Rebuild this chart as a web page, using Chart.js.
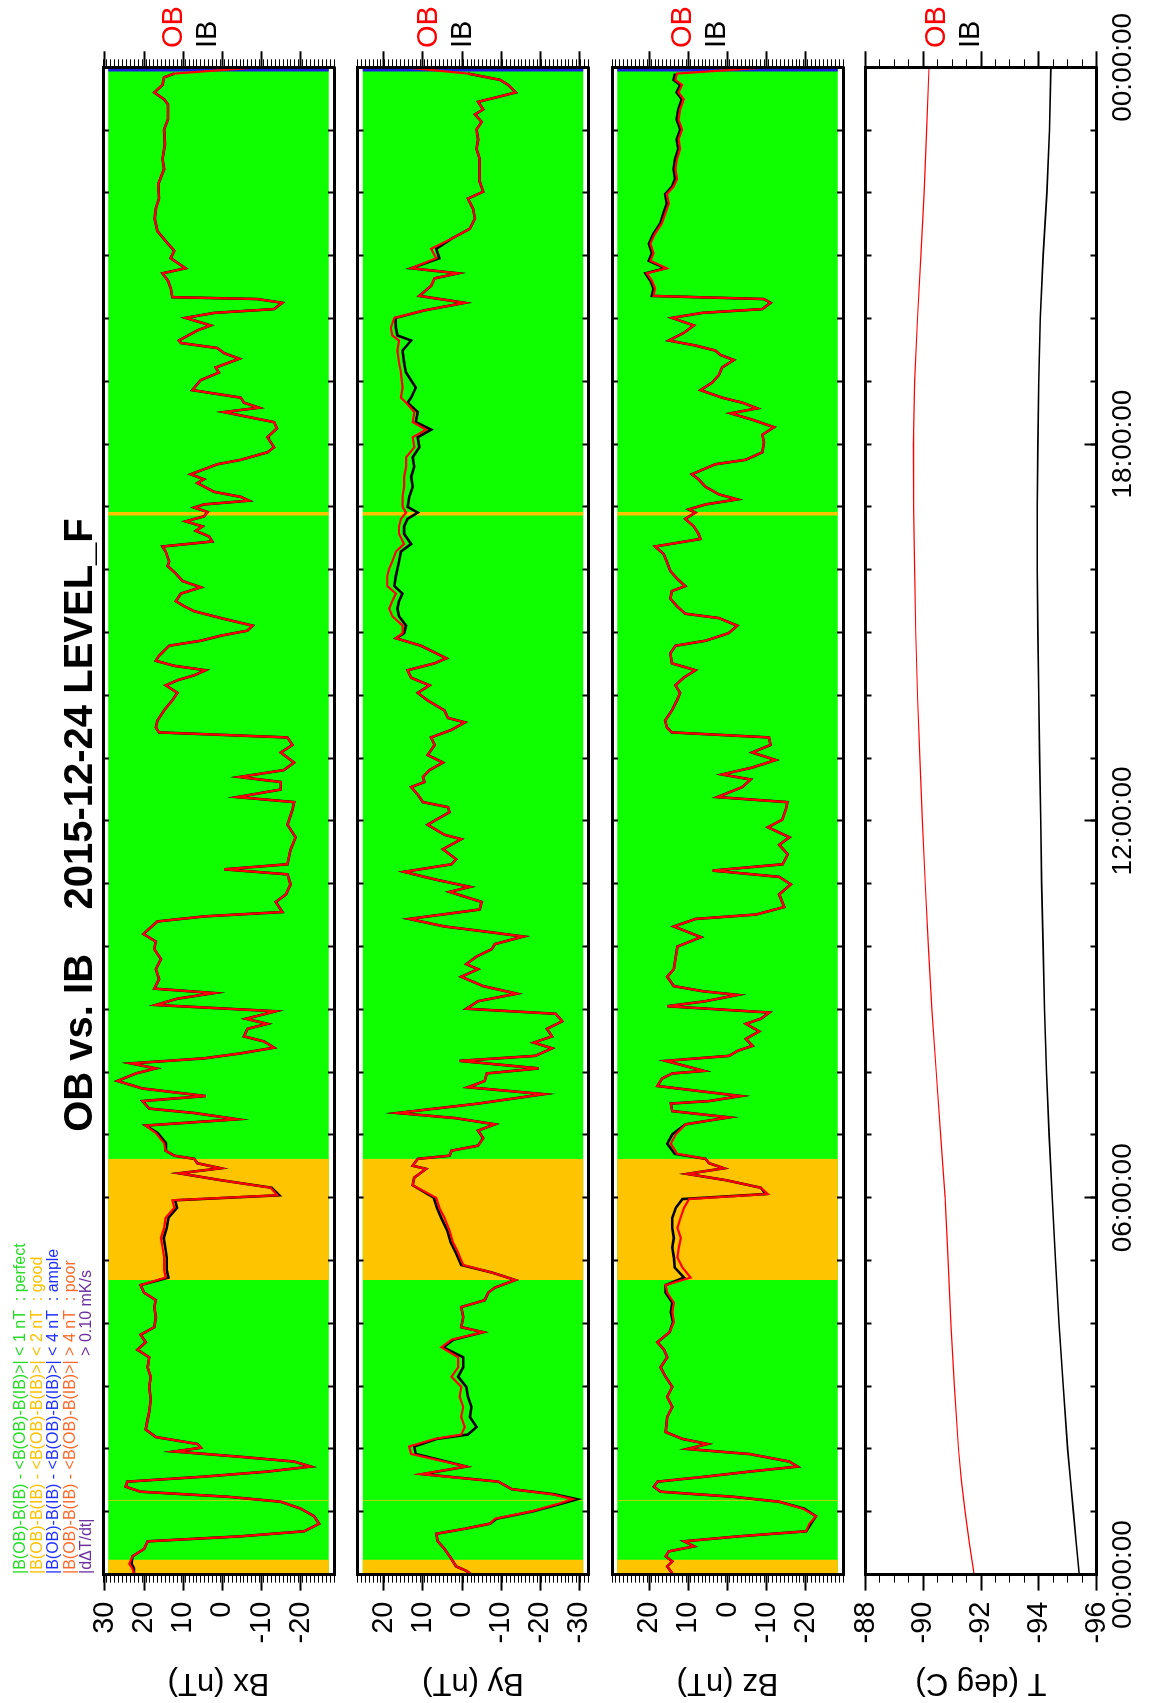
<!DOCTYPE html>
<html><head><meta charset="utf-8">
<script src="https://cdn.jsdelivr.net/npm/chart.js@4/dist/chart.umd.min.js"></script>
<style>
html,body{margin:0;padding:0;background:#fff;overflow:hidden;width:1149px;height:1703px;}
#rot{position:absolute;left:0;top:0;width:1703px;height:1149px;transform-origin:0 0;transform:translate(0px,1703px) rotate(-90deg);}
#rot canvas{position:absolute;left:0;top:0;}
</style></head><body>
<div id="rot">
<canvas id="c0" width="1703" height="1149"></canvas>
<canvas id="c1" width="1703" height="1149"></canvas>
<canvas id="c2" width="1703" height="1149"></canvas>
<canvas id="c3" width="1703" height="1149"></canvas>
</div>
<script>
// ---------------- DATA ----------------
const titleText = 'OB vs. IB    2015-12-24 LEVEL_F';
const seriesNames = ['OB', 'IB'];
const timeTickLabels = ['00:00:00', '06:00:00', '12:00:00', '18:00:00', '00:00:00'];
const panelLabels = ['Bx (nT)', 'By (nT)', 'Bz (nT)', 'T (deg C)'];

const legendLines = [
  '|B(OB)-B(IB) - <B(OB)-B(IB)>| < 1 nT  : perfect',
  '|B(OB)-B(IB) - <B(OB)-B(IB)>| < 2 nT  : good',
  '|B(OB)-B(IB) - <B(OB)-B(IB)>| < 4 nT  : ample',
  '|B(OB)-B(IB) - <B(OB)-B(IB)>| > 4 nT  : poor'
];
const legendRateLabel = '|d\u0394T/dt|';
const legendRateValue = '> 0.10 mK/s';

// quality flag intervals (hours)
const bandStart = [0.00, 1.17, 4.69, 16.86, 23.93];
const bandEnd   = [0.24, 1.185, 6.62, 16.92, 24.00];
const bandClass = ['good', 'good', 'good', 'good', 'ample'];

const bxTime = [0.02,0.10,0.17,0.29,0.41,0.53,0.61,0.69,0.81,0.93,
1.05,1.16,1.24,1.32,1.40,1.48,1.56,1.64,1.72,1.80,
1.88,1.96,2.02,2.08,2.19,2.31,2.47,2.59,2.79,2.99,
3.15,3.30,3.46,3.58,3.70,3.82,3.94,4.10,4.26,4.37,
4.49,4.61,4.73,4.85,5.05,5.21,5.36,5.52,5.68,5.84,
5.96,6.04,6.16,6.28,6.39,6.47,6.55,6.62,6.67,6.75,
6.87,7.03,7.15,7.25,7.35,7.42,7.54,7.62,7.74,7.86,
7.98,8.06,8.14,8.22,8.30,8.39,8.49,8.57,8.69,8.77,
8.85,8.97,9.07,9.17,9.26,9.33,9.48,9.64,9.80,9.96,
10.08,10.20,10.40,10.48,10.55,10.71,10.83,10.99,11.15,11.23,
11.31,11.54,11.74,11.94,12.18,12.30,12.38,12.50,12.62,12.70,
12.81,12.93,13.09,13.21,13.33,13.41,13.49,13.60,13.76,13.92,
14.04,14.16,14.24,14.32,14.40,14.47,14.55,14.63,14.79,14.87,
14.95,15.03,15.11,15.23,15.34,15.42,15.50,15.62,15.72,15.82,
15.94,16.06,16.13,16.29,16.37,16.45,16.53,16.62,16.69,16.77,
16.85,16.92,16.99,17.04,17.10,17.16,17.24,17.38,17.44,17.52,
17.68,17.75,17.87,17.95,18.11,18.25,18.35,18.51,18.58,18.66,
18.74,18.86,19.02,19.14,19.22,19.36,19.45,19.53,19.61,19.65,
19.81,19.89,20.01,20.09,20.15,20.25,20.31,20.34,20.48,20.60,
20.72,20.80,20.96,21.08,21.19,21.39,21.59,21.75,21.91,22.14,
22.38,22.54,22.77,23.01,23.17,23.41,23.49,23.60,23.72,23.84,
23.90,24.00];
const bxOB = [22.6,23.0,23.8,23.0,20.0,19.1,-4.7,-20.9,-24.7,-23.4,
-20.0,-14.9,-1.3,20.9,24.7,24.3,4.7,-11.5,-22.6,-18.3,
-3.8,12.3,5.5,6.4,17.0,19.6,19.1,18.7,18.3,18.7,
18.3,19.1,18.7,21.7,19.6,20.9,17.4,17.0,17.4,17.0,
20.0,20.9,14.5,14.9,14.9,15.3,15.7,14.9,14.5,12.3,
12.8,-14.0,-12.3,0.4,11.1,0.4,6.4,7.2,12.3,14.5,
14.9,17.0,19.6,-3.8,7.2,18.7,20.4,4.3,20.4,26.8,
22.1,17.0,23.4,4.7,-4.7,-13.2,-10.6,-5.5,-6.4,-11.5,
-6.0,-13.6,17.0,11.5,2.1,17.4,16.2,17.0,15.7,17.4,
17.0,20.2,16.6,4.7,-15.3,-13.6,-16.2,-17.4,-16.6,-0.4,
-16.6,-17.4,-18.7,-16.6,-17.9,-18.3,-3.8,-14.9,-14.9,-4.3,
-15.7,-18.3,-14.9,-17.9,-16.6,16.2,17.0,16.6,14.9,12.8,
11.5,14.5,11.5,7.2,4.3,12.3,17.0,16.2,13.6,5.5,
0.4,-6.4,-7.7,0.4,7.2,9.8,11.9,10.6,5.5,10.2,
11.9,14.0,13.6,14.5,15.3,2.6,3.4,6.8,5.1,9.4,
4.7,3.8,7.2,4.7,-6.8,-4.7,2.1,6.4,4.7,8.1,
1.3,-4.7,-11.5,-13.2,-11.5,-13.9,-13.2,-0.4,-9.4,-5.5,
-4.7,7.7,5.5,0.9,1.7,-4.3,-0.4,1.3,10.6,11.1,
6.4,3.0,9.4,2.1,-13.2,-15.3,-8.9,12.8,13.2,13.9,
15.3,9.4,13.2,12.3,13.9,16.6,17.3,17.0,16.2,16.4,
14.9,15.3,14.7,14.9,13.9,13.9,14.9,17.4,15.3,14.9,
12.3,-9.4];
const bxIB = [22.6,22.6,23.2,23.0,20.0,19.1,-4.7,-20.9,-24.7,-23.4,
-20.0,-14.9,-1.3,20.9,24.7,24.3,4.7,-11.5,-22.6,-18.3,
-3.8,12.3,5.5,6.4,17.0,19.6,19.1,18.7,18.3,18.7,
18.3,19.1,18.7,21.7,19.6,20.9,17.4,17.0,17.4,17.0,
20.0,20.9,13.8,14.2,14.2,14.6,15.0,14.2,13.8,11.6,
12.1,-14.5,-12.6,0.4,11.1,0.4,6.4,7.2,12.3,14.5,
14.4,16.5,19.6,-3.8,7.2,18.7,20.4,4.3,20.4,26.8,
22.1,17.0,23.4,4.7,-4.7,-13.2,-10.6,-5.5,-6.4,-11.5,
-6.0,-13.6,17.0,11.5,2.1,17.4,16.2,17.0,15.7,17.4,
17.0,20.2,16.6,4.7,-15.3,-13.6,-16.2,-17.4,-16.6,-0.4,
-16.6,-17.4,-18.7,-16.6,-17.9,-18.3,-3.8,-14.9,-14.9,-4.3,
-15.7,-18.3,-14.9,-17.9,-16.6,16.2,17.0,16.6,14.9,12.8,
11.5,14.5,11.5,7.2,4.3,12.3,17.0,16.2,13.6,5.5,
0.4,-6.4,-7.7,0.4,7.2,9.8,11.9,10.6,5.5,10.2,
11.9,14.0,13.6,14.5,15.3,2.6,3.4,6.8,5.1,9.4,
4.7,3.8,7.2,4.7,-6.8,-4.7,2.1,6.4,4.7,8.1,
1.3,-4.7,-11.5,-13.2,-11.5,-13.9,-13.2,-0.4,-9.4,-5.5,
-4.7,7.7,5.5,0.9,1.7,-4.3,-0.4,1.3,10.6,11.1,
6.4,3.0,9.4,2.1,-13.2,-15.3,-8.9,12.8,13.2,13.9,
15.3,9.4,13.2,12.3,13.9,16.6,17.3,17.0,16.2,16.4,
14.9,15.3,14.7,14.9,13.9,13.9,14.9,17.4,15.3,14.9,
12.3,null];

const byTime = [0.00,0.06,0.13,0.25,0.41,0.53,0.65,0.73,0.81,0.89,
1.01,1.13,1.20,1.28,1.36,1.48,1.60,1.72,1.80,1.92,
2.04,2.16,2.23,2.35,2.51,2.67,2.83,2.99,3.15,3.30,
3.46,3.62,3.74,3.86,3.94,4.10,4.26,4.37,4.49,4.57,
4.69,4.81,4.93,5.13,5.29,5.48,5.68,5.84,6.00,6.20,
6.32,6.46,6.51,6.62,6.67,6.75,6.83,6.95,7.07,7.17,
7.27,7.35,7.50,7.65,7.76,7.86,7.98,8.06,8.18,8.26,
8.38,8.47,8.57,8.69,8.81,8.93,9.01,9.13,9.25,9.37,
9.52,9.64,9.72,9.84,9.96,10.04,10.16,10.24,10.32,10.44,
10.59,10.71,10.87,10.95,11.07,11.19,11.31,11.39,11.55,11.71,
11.78,11.94,12.14,12.22,12.30,12.42,12.54,12.62,12.70,12.81,
12.93,13.05,13.21,13.33,13.45,13.57,13.64,13.76,13.92,14.04,
14.16,14.28,14.40,14.51,14.59,14.71,14.79,14.91,14.99,15.11,
15.26,15.38,15.50,15.62,15.74,15.90,16.02,16.13,16.29,16.41,
16.57,16.69,16.81,16.91,17.00,17.16,17.32,17.48,17.64,17.79,
17.95,18.11,18.23,18.35,18.51,18.66,18.74,18.90,19.14,19.30,
19.49,19.65,19.73,19.85,20.01,20.13,20.25,20.36,20.52,20.64,
20.72,20.80,20.96,21.11,21.27,21.43,21.59,21.75,21.91,22.02,
22.18,22.34,22.54,22.70,22.85,23.01,23.13,23.25,23.33,23.45,
23.53,23.60,23.72,23.80,23.90,24.00];
const byOB = [-2.4,-1.1,1.5,2.7,4.5,6.2,6.6,-0.7,-7.1,-8.4,
-17.9,-24.7,-28.2,-23.0,-12.7,-9.3,10.5,-1.1,4.5,13.0,
13.5,7.0,0.2,-0.7,0.2,-0.3,0.6,0.2,2.7,1.0,
1.0,5.3,2.7,-5.4,0.2,-0.3,0.2,-5.8,-6.7,-8.4,
-13.6,-7.6,-0.3,1.0,2.3,3.2,4.5,5.8,6.6,12.6,
12.2,9.2,12.6,11.3,3.2,2.7,-4.1,-5.4,-4.1,-8.4,
1.9,16.5,-4.1,-20.9,-1.5,-5.8,-6.3,-19.6,0.6,-18.7,
-23.0,-18.3,-23.0,-21.7,-25.6,-23.9,-1.1,-4.1,-14.0,-5.4,
0.2,-4.1,-1.1,-3.7,-7.6,-8.4,-15.7,-5.8,4.5,13.5,
-4.5,-5.0,3.2,-2.0,7.0,14.8,2.7,1.5,4.9,0.2,
4.5,8.8,3.2,3.6,10.0,11.3,13.0,9.6,10.0,8.3,
4.9,8.8,7.0,7.9,2.7,-0.7,3.6,4.5,8.8,11.3,
8.3,13.0,13.9,7.0,4.0,7.9,10.5,16.9,15.2,15.2,
17.8,18.6,17.8,16.9,19.1,19.1,18.6,17.8,16.9,14.8,
16.1,16.1,15.6,14.3,15.2,15.2,14.8,14.8,14.3,14.3,
12.2,12.6,9.2,12.6,12.2,14.3,15.6,15.2,15.6,16.1,
16.5,16.1,17.8,18.2,17.3,9.6,-0.7,10.9,7.9,7.0,
1.0,13.0,6.6,7.9,2.7,-2.0,-3.3,-2.8,-1.5,-5.4,
-4.5,-4.5,-4.5,-3.7,-4.1,-3.7,-5.0,-3.3,-5.4,-4.1,
-9.3,-13.7,-11.8,-9.7,-1.5,14.8];
const byIB = [-2.4,-1.1,1.5,2.7,4.5,6.2,6.6,-0.7,-7.1,-8.8,
-18.3,-25.4,-29.4,-23.5,-12.7,-9.3,10.0,-1.1,4.0,11.8,
12.2,6.5,-1.5,-3.7,-2.0,-2.4,-1.5,-1.1,1.0,-0.3,
-0.3,4.8,2.2,-5.4,0.2,-0.3,0.2,-5.8,-6.7,-8.4,
-13.6,-7.6,0.2,1.6,2.9,3.8,5.3,6.4,7.2,12.6,
12.2,9.2,12.6,11.3,3.2,2.7,-4.1,-5.4,-4.1,-8.4,
1.9,16.5,-4.1,-20.9,-1.5,-5.8,-6.3,-19.6,0.6,-18.7,
-23.0,-18.3,-23.0,-21.7,-25.6,-23.9,-1.1,-4.1,-14.0,-5.4,
0.2,-4.1,-1.1,-3.7,-7.6,-8.4,-15.7,-5.8,4.5,13.5,
-4.5,-5.0,3.2,-2.0,7.0,14.8,2.7,1.5,4.9,0.2,
4.5,8.8,3.2,3.6,10.0,11.3,13.0,9.6,10.0,8.3,
4.9,8.8,7.0,7.9,2.7,-0.7,3.6,4.5,8.8,11.3,
8.3,13.0,13.9,7.0,4.0,7.9,10.5,16.9,14.8,14.3,
16.1,16.5,16.1,15.2,17.3,16.9,16.5,16.1,15.6,13.0,
14.8,14.8,13.9,11.3,13.9,13.5,12.6,13.0,12.2,12.6,
10.9,11.3,7.9,11.8,11.3,13.9,13.0,11.8,14.3,14.8,
15.2,13.0,16.5,16.9,17.0,9.6,-0.7,10.9,7.9,7.0,
1.0,13.0,5.8,6.6,2.7,-2.0,-3.3,-2.8,-1.5,-5.4,
-4.5,-4.5,-4.5,-3.7,-4.1,-3.7,-5.0,-3.3,-5.4,-4.1,
-9.3,-13.7,-11.8,-9.7,-1.5,null];

const bzTime = [0.02,0.13,0.21,0.29,0.37,0.45,0.53,0.61,0.69,0.81,
0.93,1.05,1.16,1.24,1.32,1.40,1.48,1.56,1.64,1.72,
1.80,1.92,2.00,2.08,2.16,2.27,2.51,2.67,2.83,2.99,
3.15,3.30,3.46,3.58,3.70,3.86,4.02,4.18,4.33,4.49,
4.61,4.73,4.89,5.05,5.21,5.36,5.52,5.68,5.84,5.98,
6.06,6.16,6.28,6.38,6.47,6.55,6.62,6.70,6.86,7.01,
7.17,7.28,7.38,7.50,7.54,7.62,7.70,7.78,7.90,7.98,
8.02,8.18,8.26,8.34,8.42,8.53,8.65,8.77,8.85,8.95,
9.05,9.13,9.23,9.29,9.37,9.52,9.64,9.84,10.00,10.15,
10.32,10.44,10.51,10.63,10.83,10.99,11.11,11.21,11.31,11.47,
11.62,11.74,11.90,12.02,12.18,12.30,12.38,12.54,12.66,12.74,
12.85,12.97,13.09,13.21,13.33,13.41,13.49,13.60,13.76,13.92,
14.04,14.16,14.28,14.40,14.51,14.67,14.79,14.87,14.99,15.11,
15.23,15.30,15.42,15.54,15.66,15.74,15.86,15.98,16.13,16.25,
16.37,16.49,16.57,16.69,16.81,16.91,16.96,17.04,17.12,17.20,
17.32,17.44,17.52,17.68,17.75,17.87,18.03,18.15,18.27,18.39,
18.49,18.57,18.66,18.74,18.86,18.98,19.10,19.22,19.34,19.42,
19.49,19.57,19.65,19.77,19.89,20.01,20.09,20.15,20.25,20.31,
20.36,20.48,20.60,20.72,20.80,20.92,21.04,21.19,21.35,21.51,
21.67,21.83,21.98,22.10,22.22,22.38,22.54,22.70,22.85,23.01,
23.17,23.33,23.49,23.60,23.72,23.80,23.90,24.00];
const bzOB = [14.1,15.4,14.1,15.8,15.0,8.5,11.1,-3.0,-20.1,-20.9,
-22.6,-19.2,-13.2,-1.3,17.1,18.8,17.9,5.6,-5.6,-17.9,
-15.8,-5.6,10.3,5.1,11.5,15.8,15.4,14.1,15.4,14.1,
15.8,17.1,15.4,16.2,17.9,14.8,13.7,14.1,13.7,15.4,
15.8,9.4,11.5,12.8,12.4,11.9,12.8,12.0,11.1,9.8,
-10.3,-8.5,0.4,10.3,0.9,4.7,5.6,12.8,14.5,13.2,
10.7,-0.4,14.1,14.5,4.7,-3.4,7.3,17.9,16.7,14.1,
6.0,15.8,-0.4,-2.6,-6.4,-4.7,-8.1,-4.7,-8.5,-10.7,
15.4,5.6,-2.6,6.4,13.7,15.4,13.7,13.2,12.8,6.8,
13.7,8.1,-7.3,-14.5,-13.2,-16.2,-13.2,3.8,-14.1,-15.4,
-13.2,-15.8,-10.3,-14.0,-14.9,-15.3,2.6,-3.8,-5.9,1.4,
-6.3,-12.3,-6.3,-11.0,-10.6,14.2,15.5,15.9,14.2,12.9,
12.1,13.3,11.2,8.2,14.2,14.6,13.3,5.6,-0.3,-2.5,
2.2,10.8,12.9,14.6,14.2,10.8,12.9,14.6,15.5,16.3,
18.5,6.9,7.4,8.6,10.8,8.2,9.9,5.6,-2.5,2.2,
5.6,7.4,9.1,3.1,-4.6,-8.9,-9.3,-8.9,-11.9,-6.3,
-0.8,-7.6,-3.8,1.4,6.9,3.9,2.2,1.4,-1.6,1.8,
3.1,8.2,15.0,11.2,8.6,14.2,6.5,-8.9,-11.0,-9.3,
18.9,18.5,19.3,20.6,15.5,19.7,18.9,19.7,18.5,16.8,
15.9,15.0,15.5,13.8,12.9,13.3,12.9,12.1,12.5,11.6,
12.5,12.1,11.2,12.5,11.6,13.3,12.9,-10.6];
const bzIB = [14.1,15.4,14.1,15.8,15.0,8.5,11.1,-3.0,-20.1,-21.3,
-22.6,-19.6,-13.2,-1.3,17.1,18.8,17.9,5.6,-5.6,-17.9,
-15.8,-5.6,10.3,5.1,11.5,15.8,15.4,14.1,15.4,14.1,
15.8,17.1,15.4,16.2,17.9,14.8,13.9,14.5,14.1,15.8,
15.8,11.1,13.5,13.7,14.1,13.7,14.1,14.1,13.2,11.5,
-9.8,-8.5,0.4,10.3,0.9,4.7,5.6,13.5,15.4,14.1,
10.7,-0.4,14.1,14.5,4.7,-3.4,7.3,17.9,16.7,14.1,
6.0,15.8,-0.4,-2.6,-6.4,-4.7,-8.1,-4.7,-8.5,-10.7,
15.4,5.6,-2.6,6.4,13.7,15.4,13.7,13.2,12.8,6.8,
13.7,8.1,-7.3,-14.5,-13.2,-16.2,-13.2,3.8,-14.1,-15.4,
-13.2,-15.8,-10.3,-14.0,-14.9,-15.3,2.6,-3.8,-5.9,1.4,
-6.3,-12.3,-6.3,-11.0,-10.6,14.2,15.5,15.9,14.2,12.9,
12.1,13.3,11.2,8.2,14.2,14.6,13.3,5.6,-0.3,-2.5,
2.2,10.8,12.9,14.6,14.2,10.8,12.9,14.6,15.5,16.3,
18.5,6.9,7.4,8.6,10.8,8.2,9.9,5.6,-2.5,2.2,
5.6,7.4,9.1,3.1,-4.6,-8.9,-9.3,-8.9,-11.9,-6.3,
-0.8,-7.6,-3.8,1.4,6.9,3.9,2.2,1.4,-1.6,1.8,
3.1,8.2,15.0,11.2,8.6,14.2,6.5,-8.9,-11.0,-9.3,
19.3,18.9,19.7,21.0,15.9,20.1,19.3,20.1,18.9,17.2,
16.4,15.5,15.9,14.2,13.4,13.8,13.4,12.6,13.0,12.1,
13.0,12.6,11.7,13.0,12.1,13.8,13.4,null];

const tTime = [0,0.5,1,1.5,2,3,4,5,6,7,8,9,10,11,12,13,14,15,16,17,18,19,20,21,22,23,24];
const tOB = [-91.76,-91.6,-91.45,-91.32,-91.22,-91.08,-90.96,-90.86,-90.76,-90.6,-90.45,-90.3,-90.18,-90.07,-89.97,-89.88,-89.8,-89.74,-89.7,-89.67,-89.66,-89.7,-89.8,-89.92,-90.03,-90.12,-90.2];
const tIB = [-95.4,-95.3,-95.2,-95.1,-95.0,-94.85,-94.7,-94.58,-94.47,-94.36,-94.27,-94.2,-94.15,-94.1,-94.07,-94.03,-94.0,-93.97,-93.95,-93.95,-93.97,-94.0,-94.05,-94.15,-94.28,-94.37,-94.42];

// ---------------- STYLE / LAYOUT ----------------
const FONT = "'Liberation Sans', Arial, Helvetica, sans-serif";
const W = 1703, H = 1149;
const X0 = 128.4, X1 = 1635.7;     // time axis pixel extent
const PANEL_H = 231;
const FILL_INSET = 1.35;
const COLORS = { OB: '#ff0000', IB: '#000000', perfect: '#10ff00', good: '#ffc400', ample: '#1a1ae8' };
const legendColors = ['#22dd22', '#ffc000', '#1f2fff', '#ff6a2a'];
const legendRateColor = '#6b2fa0';

Chart.defaults.font.family = FONT;
Chart.defaults.color = '#000';

function xy(t, v) { return t.map((x, i) => ({ x: x, y: v[i] })); }
function tickGrid(len, w) {
  return { display: true, drawOnChartArea: false, drawTicks: true, tickLength: len, tickWidth: w, tickColor: '#000', color: '#000', z: 1 };
}
const BORDER = { display: true, color: '#000', width: 3, z: 1 };

function fixW(w) { return s => { s.width = w; s.paddingTop = 0; s.paddingBottom = 0; }; }
function fixH(h) { return s => { s.height = h; s.paddingLeft = 0; s.paddingRight = 0; }; }

const obibPlugin = {
  id: 'obib',
  afterDraw(chart) {
    const ctx = chart.ctx, ca = chart.chartArea;
    ctx.save();
    ctx.font = '29px ' + FONT;
    ctx.textAlign = 'left';
    ctx.textBaseline = 'alphabetic';
    ctx.fillStyle = COLORS.OB; ctx.fillText(seriesNames[0], ca.right + 19.3, ca.top + 79);
    ctx.fillStyle = COLORS.IB; ctx.fillText(seriesNames[1], ca.right + 19.3, ca.top + 113);
    ctx.restore();
  }
};

const headerPlugin = {
  id: 'header',
  afterDraw(chart) {
    const ctx = chart.ctx;
    ctx.save();
    ctx.textBaseline = 'alphabetic';
    ctx.font = 'bold 40px ' + FONT;
    ctx.fillStyle = '#000';
    ctx.textAlign = 'center';
    ctx.fillText(titleText, 878, 92);
    ctx.font = '16px ' + FONT;
    ctx.textAlign = 'left';
    const base = [25, 41.5, 58, 74.5, 91];
    legendLines.forEach((s, i) => { ctx.fillStyle = legendColors[i]; ctx.fillText(s, 129, base[i]); });
    ctx.fillStyle = legendRateColor;
    ctx.fillText(legendRateLabel, 129, base[4]);
    const off = ctx.measureText('|B(OB)-B(IB) - <B(OB)-B(IB)>| ').width;
    ctx.fillText(legendRateValue, 129 + off, base[4]);
    ctx.restore();
  }
};

function build(id, p) {
  const ds = [
    { label: seriesNames[0], data: xy(p.time, p.ob), borderColor: COLORS.OB, borderWidth: p.lw, pointRadius: 0, fill: false, order: 0, xAxisID: 'x', yAxisID: 'y', tension: 0 },
    { label: seriesNames[1], data: xy(p.time, p.ib), borderColor: COLORS.IB, borderWidth: p.lw + 0.4, pointRadius: 0, fill: false, order: 1, xAxisID: 'x', yAxisID: 'y', tension: 0 }
  ];
  if (p.quality) {
    const lo = p.min + FILL_INSET, hi = p.max - FILL_INSET;
    ds.push({ data: [{ x: 0, y: hi }, { x: 24, y: hi }], fill: { value: lo }, backgroundColor: COLORS.perfect, borderColor: 'rgba(0,0,0,0)', borderWidth: 0, pointRadius: 0, order: 10, xAxisID: 'x', yAxisID: 'y' });
    bandStart.forEach((s, i) => {
      ds.push({ data: [{ x: s, y: hi }, { x: bandEnd[i], y: hi }], fill: { value: lo }, backgroundColor: COLORS[bandClass[i]], borderColor: 'rgba(0,0,0,0)', borderWidth: 0, pointRadius: 0, order: 5, xAxisID: 'x', yAxisID: 'y' });
    });
  }
  const bottomH = H - p.top - PANEL_H;
  const scales = {
    xTop: { type: 'linear', position: 'top', min: 0, max: 24, ticks: { display: false, stepSize: 1 }, grid: tickGrid(-6, 2), border: BORDER, afterFit: fixH(p.top) },
    x: { type: 'linear', position: 'bottom', weight: 1, min: 0, max: 24,
         ticks: p.timeLabels ? { display: true, stepSize: 6, autoSkip: false, maxRotation: 0, minRotation: 0, padding: 22, color: '#000', font: { family: FONT, size: 28 }, callback: v => timeTickLabels[Math.round(v / 6)] } : { display: false, stepSize: 1 },
         grid: tickGrid(p.timeLabels ? -12 : -6, 2), border: BORDER, afterFit: fixH(bottomH) },
    y: { type: 'linear', position: 'left', weight: 1, min: p.min, max: p.max,
         ticks: { stepSize: p.major, autoSkip: false, includeBounds: false, padding: 11, color: '#000', font: { family: FONT, size: 29 } },
         grid: tickGrid(16, 2), border: BORDER,
         title: { display: true, text: p.label, color: '#000', font: { family: FONT, size: 31 }, padding: { top: 2, bottom: 0 } },
         afterFit: fixW(X0) },
    yMinor: { type: 'linear', position: 'left', weight: 0, min: p.min, max: p.max, ticks: { display: false, stepSize: p.minor, includeBounds: false }, grid: tickGrid(8, 1), border: BORDER, afterFit: fixW(0) },
    yR: { type: 'linear', axis: 'y', position: 'right', weight: 1, min: p.min, max: p.max, ticks: { display: false, stepSize: p.major, includeBounds: false }, grid: tickGrid(16, 2), border: BORDER, afterFit: fixW(W - X1) },
    yRMinor: { type: 'linear', axis: 'y', position: 'right', weight: 0, min: p.min, max: p.max, ticks: { display: false, stepSize: p.minor, includeBounds: false }, grid: tickGrid(8, 1), border: BORDER, afterFit: fixW(0) }
  };
  if (p.timeLabels) {
    scales.xMinor = { type: 'linear', position: 'bottom', weight: 0, min: 0, max: 24, ticks: { display: false, stepSize: 1 }, grid: tickGrid(-6, 2), border: BORDER, afterFit: fixH(0) };
  }
  const plugins = [obibPlugin];
  if (p.header) plugins.push(headerPlugin);
  return new Chart(document.getElementById(id), {
    type: 'line',
    data: { datasets: ds },
    options: {
      responsive: false, animation: false, devicePixelRatio: 1, events: [],
      layout: { padding: 0 },
      plugins: { legend: { display: false }, tooltip: { enabled: false }, title: { display: false } },
      scales: scales
    },
    plugins: plugins
  });
}

const panels = [
  { time: bxTime, ob: bxOB, ib: bxIB, min: -28.5, max: 30.5, major: 10, minor: 1, label: panelLabels[0], top: 103,   quality: true,  lw: 2.2, header: true },
  { time: byTime, ob: byOB, ib: byIB, min: -32.3, max: 26.7, major: 10, minor: 1, label: panelLabels[1], top: 357.5, quality: true,  lw: 2.2 },
  { time: bzTime, ob: bzOB, ib: bzIB, min: -29.5, max: 29.5, major: 10, minor: 1, label: panelLabels[2], top: 612,   quality: true,  lw: 2.2 },
  { time: tTime,  ob: tOB,  ib: tIB,  min: -96,   max: -88,  major: 2,  minor: 0.5, label: panelLabels[3], top: 865.5, quality: false, lw: 1.2, timeLabels: true }
];
panels.forEach((p, i) => {
  if (p.time.length !== p.ob.length || p.time.length !== p.ib.length) console.warn('length mismatch panel', i, p.time.length, p.ob.length, p.ib.length);
  build('c' + i, p);
});
</script>
</body></html>
